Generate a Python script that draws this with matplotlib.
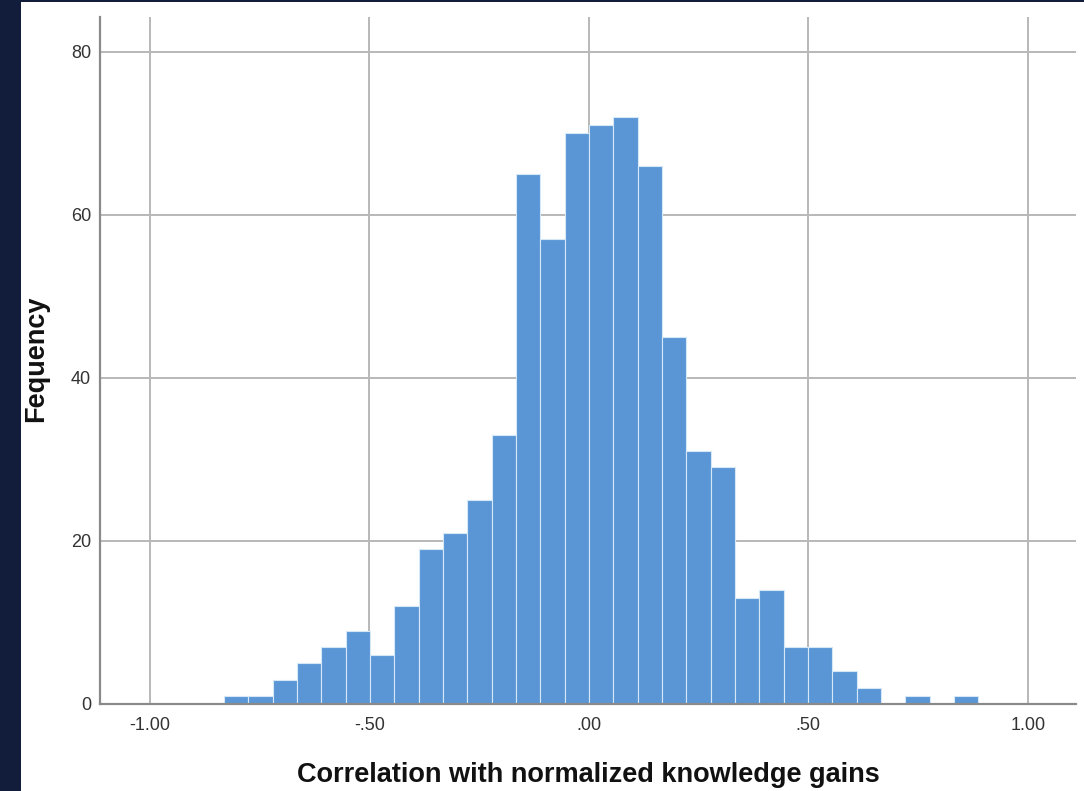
import matplotlib
matplotlib.use("Agg")
import matplotlib.pyplot as plt
import numpy as np
from matplotlib.patches import Rectangle

# histogram (SPSS style)
bin_start = -0.8314
bin_width = 0.05545
counts = [1, 1, 3, 5, 7, 9, 6, 12, 19, 21, 25, 33, 65, 57, 70, 71,
          72, 66, 45, 31, 29, 13, 14, 7, 7, 4, 2, 0, 1, 0, 1]
x_ticks = [-1.0, -0.5, 0.0, 0.5, 1.0]
x_tick_labels = ["-1.00", "-.50", ".00", ".50", "1.00"]
y_ticks = [0, 20, 40, 60, 80]

W, H = 1084, 791
plt.rcParams["font.family"] = ["Liberation Sans", "DejaVu Sans"]

fig = plt.figure(figsize=(W / 100, H / 100), dpi=100, facecolor="#111d3b")
# white page, navy strip on the left and top
fig.patches.append(Rectangle((21 / W, 0), 1 - 21 / W, (H - 2) / H,
                             transform=fig.transFigure, facecolor="white",
                             edgecolor="none", zorder=-5))

ax = fig.add_axes([100 / W, (H - 704) / H, 976 / W, (704 - 17.3) / H])
ax.set_zorder(2)
ax.set_facecolor("none")

edges = bin_start + bin_width * np.arange(len(counts))
ax.bar(edges, counts, width=bin_width, align="edge", color="#5a96d6",
       edgecolor="#d6e8f8", linewidth=0.8, zorder=2)

ax.set_xlim(-1.114, 1.110)
ax.set_ylim(0, 84.2)
ax.set_xticks(x_ticks)
ax.set_xticklabels(x_tick_labels)
ax.set_yticks(y_ticks)

ax.grid(True, color="#b8b8b8", linewidth=1.4)
ax.set_axisbelow(True)
ax.tick_params(length=0, labelsize=13, colors="#333333")
ax.tick_params(axis="y", pad=6.5)
ax.tick_params(axis="x", pad=9)

for side in ("top", "right"):
    ax.spines[side].set_visible(False)
for side in ("left", "bottom"):
    ax.spines[side].set_color("#8a8a8a")
    ax.spines[side].set_linewidth(1.6)

fig.text(588 / W, (H - 782) / H, "Correlation with normalized knowledge gains",
         ha="center", va="baseline", fontsize=19.5, fontweight="bold",
         color="#111111", zorder=3)
fig.text(43 / W, (H - 359) / H, "Fequency", rotation=90, rotation_mode="anchor",
         ha="center", va="baseline", fontsize=19.5, fontweight="bold",
         color="#111111", zorder=3)

fig.savefig("out.png", dpi=100, facecolor=fig.get_facecolor())
